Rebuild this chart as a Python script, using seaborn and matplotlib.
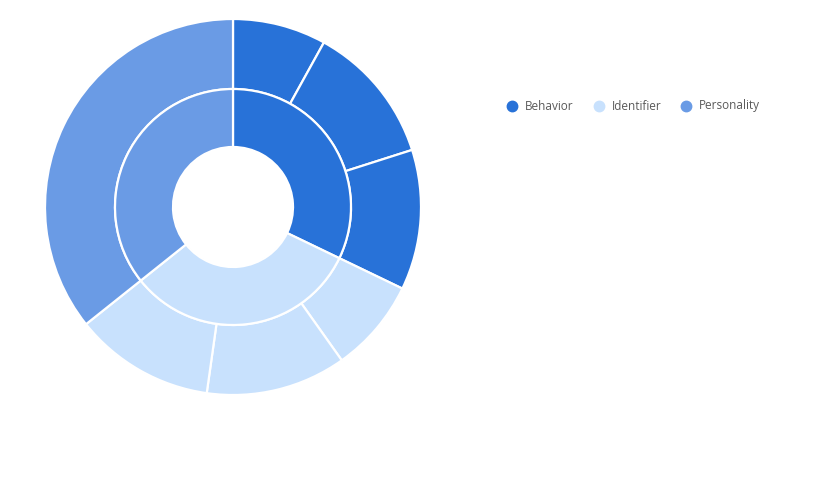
import matplotlib
matplotlib.use("Agg")
import matplotlib.pyplot as plt
import seaborn as sns

# Data
categories = ["Behavior", "Identifier", "Personality"]
inner_values = [9, 9, 10]
outer_values = [2.25, 3.375, 3.375, 2.25, 3.375, 3.375, 10]
outer_parent = ["Behavior", "Behavior", "Behavior", "Identifier", "Identifier", "Identifier", "Personality"]
colors = {"Behavior": "#2872D8", "Identifier": "#C8E1FD", "Personality": "#6A9BE5"}

sns.set_theme(style="white")
plt.rcParams['font.family'] = ['Open Sans', 'DejaVu Sans']

W, H = 837, 490
fig = plt.figure(figsize=(W / 100, H / 100), dpi=100)
ax = fig.add_axes([0, 0, 1, 1])

cx, cy = 233, H - 207
R_out, R_mid, R_in = 188, 118, 60

wp = dict(edgecolor="white", linewidth=1.6)
ax.pie(outer_values, colors=[colors[p] for p in outer_parent], radius=R_out,
       center=(cx, cy), startangle=90, counterclock=False,
       wedgeprops=dict(width=R_out - R_mid, **wp), frame=True)
ax.pie(inner_values, colors=[colors[c] for c in categories], radius=R_mid,
       center=(cx, cy), startangle=90, counterclock=False,
       wedgeprops=dict(width=R_mid - R_in, **wp), frame=True)
ax.set_xlim(0, W)
ax.set_ylim(0, H)
ax.set_aspect("equal")
ax.axis("off")

# Legend
leg_x = [512, 599, 686]
leg_y = H - 106
for c, x in zip(categories, leg_x):
    ax.plot([x], [leg_y], marker="o", markersize=7.5, color=colors[c], linestyle="none")
    ax.text(x + 13, leg_y, c, fontsize=8.5, color="#5a5a5a", va="center", ha="left")

fig.savefig("out.png", dpi=100)
